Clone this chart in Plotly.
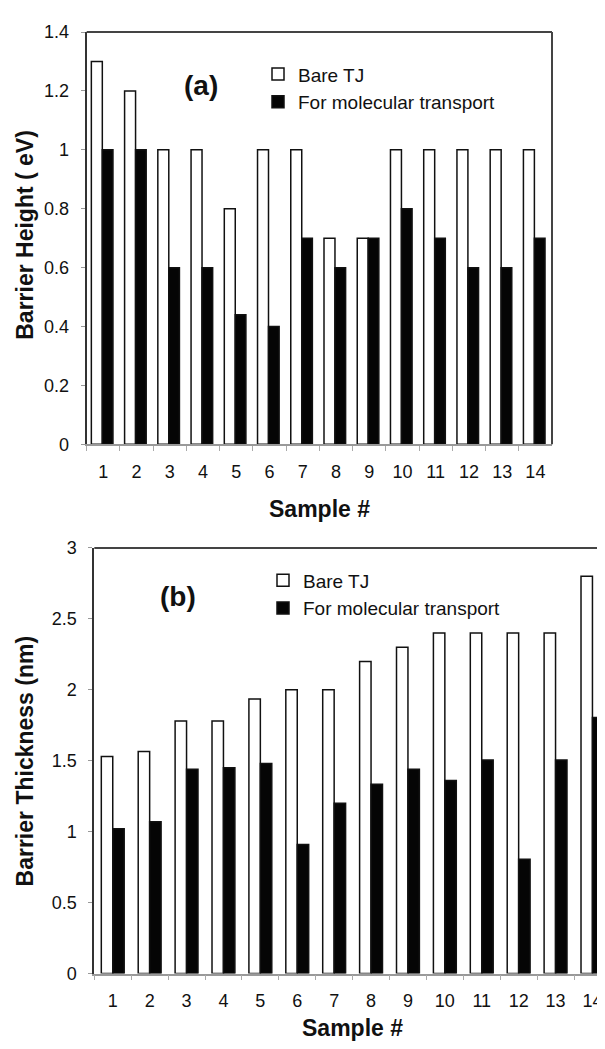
import plotly.graph_objects as go

# ---------------- data ----------------
samples = [str(i) for i in range(1, 15)]
series_names = ["Bare TJ", "For molecular transport"]

height_bare = [1.3, 1.2, 1.0, 1.0, 0.8, 1.0, 1.0, 0.7, 0.7, 1.0, 1.0, 1.0, 1.0, 1.0]
height_mol = [1.0, 1.0, 0.6, 0.6, 0.44, 0.4, 0.7, 0.6, 0.7, 0.8, 0.7, 0.6, 0.6, 0.7]

thick_bare = [1.53, 1.565, 1.78, 1.78, 1.935, 2.0, 2.0, 2.2, 2.3, 2.4, 2.4, 2.4, 2.4, 2.8]
thick_mol = [1.02, 1.07, 1.44, 1.45, 1.48, 0.91, 1.2, 1.335, 1.44, 1.36, 1.505, 0.805, 1.505, 1.805]

yticks_a = [0, 0.2, 0.4, 0.6, 0.8, 1.0, 1.2, 1.4]
yticks_b = [0, 0.5, 1.0, 1.5, 2.0, 2.5, 3.0]

FONT = "Liberation Sans, Arial, sans-serif"
# the page body has an 8px margin, so the figure is drawn 8px in from the window edge
OFF = 8
W, H = 605 - OFF, 1049 - OFF


def px(x):
    return (x - OFF) / W


def py(y):
    return 1 - (y - OFF) / H


fig = go.Figure()

# panel (a)
fig.add_trace(go.Bar(x=samples, y=height_bare, name=series_names[0],
                     offset=-0.36, width=0.33,
                     marker=dict(color="white", line=dict(color="#111", width=1.5)),
                     xaxis="x", yaxis="y", legend="legend"))
fig.add_trace(go.Bar(x=samples, y=height_mol, name=series_names[1],
                     offset=-0.03, width=0.32,
                     marker=dict(color="#050505", line=dict(color="#111", width=1.5)),
                     xaxis="x", yaxis="y", legend="legend"))
# panel (b)
fig.add_trace(go.Bar(x=samples, y=thick_bare, name=series_names[0],
                     offset=-0.31, width=0.31,
                     marker=dict(color="white", line=dict(color="#111", width=1.5)),
                     xaxis="x2", yaxis="y2", legend="legend2"))
fig.add_trace(go.Bar(x=samples, y=thick_mol, name=series_names[1],
                     offset=0.0, width=0.31,
                     marker=dict(color="#050505", line=dict(color="#111", width=1.5)),
                     xaxis="x2", yaxis="y2", legend="legend2"))

xa_common = dict(type="category", showline=True, linecolor="#999", linewidth=1.5,
                 ticks="outside", tickson="boundaries", ticklen=5, tickcolor="#aaa",
                 tickwidth=1, showgrid=False, zeroline=False,
                 tickfont=dict(family=FONT, size=18, color="#111"),
                 ticklabelstandoff=10)
ya_common = dict(showline=True, linecolor="#333", linewidth=2, ticks="outside",
                 ticklen=4, tickcolor="#999", showgrid=False, zeroline=False,
                 tickfont=dict(family=FONT, size=18, color="#111"),
                 ticklabelstandoff=8)

fig.update_layout(
    width=W, height=H,
    margin=dict(l=0, r=0, t=0, b=0),
    paper_bgcolor="white", plot_bgcolor="white",
    barmode="group",
    xaxis=dict(domain=[px(86.7), px(552)], range=[-0.5, 13.5], anchor="y", **xa_common),
    yaxis=dict(domain=[py(442.7), py(22.3)], range=[0, 1.4], anchor="x",
               tickvals=yticks_a, ticktext=["0", "0.2", "0.4", "0.6", "0.8", "1", "1.2", "1.4"],
               **ya_common),
    xaxis2=dict(domain=[px(94.3), 1.0], range=[-0.5, 13.34], anchor="y2", **xa_common),
    yaxis2=dict(domain=[py(982.3), py(548.3)], range=[0, 3], anchor="x2",
                tickvals=yticks_b, ticktext=["0", "0.5", "1", "1.5", "2", "2.5", "3"],
                **ya_common),
    legend=dict(x=px(258), y=py(46), xanchor="left", yanchor="top",
                bgcolor="rgba(0,0,0,0)", borderwidth=0, itemwidth=30,
                font=dict(family=FONT, size=19, color="#111")),
    legend2=dict(x=px(263), y=py(562), xanchor="left", yanchor="top",
                 bgcolor="rgba(0,0,0,0)", borderwidth=0, itemwidth=30,
                 font=dict(family=FONT, size=19, color="#111")),
    showlegend=True,
)

# frame lines (top/right of panel a, top of panel b)
frame = dict(color="#444", width=2)
fig.add_shape(type="line", xref="x domain", yref="y domain", x0=0, x1=1, y0=1, y1=1, line=frame)
fig.add_shape(type="line", xref="x domain", yref="y domain", x0=1, x1=1, y0=0, y1=1, line=frame)
fig.add_shape(type="line", xref="x2 domain", yref="y2 domain", x0=0, x1=1, y0=1, y1=1, line=frame)

title_font = dict(family=FONT, size=23, color="#111")
ann = [
    dict(text="<b>Sample #</b>", x=px(319), y=py(508.5), font=title_font),
    dict(text="<b>Sample #</b>", x=px(352), y=py(1038), font=title_font),
    dict(text="<b>Barrier Height ( eV)</b>", x=px(25), y=py(229), textangle=-90, font=title_font),
    dict(text="<b>Barrier Thickness (nm)</b>", x=px(25), y=py(766), textangle=-90, font=title_font),
    dict(text="<b>(a)</b>", x=px(201), y=py(77), font=dict(family=FONT, size=28, color="#111")),
    dict(text="<b>(b)</b>", x=px(177.5), y=py(598), font=dict(family=FONT, size=28, color="#111")),
]
for a in ann:
    fig.add_annotation(xref="paper", yref="paper", xanchor="center", yanchor="middle",
                       showarrow=False, **a)

fig.write_html("out.html")
